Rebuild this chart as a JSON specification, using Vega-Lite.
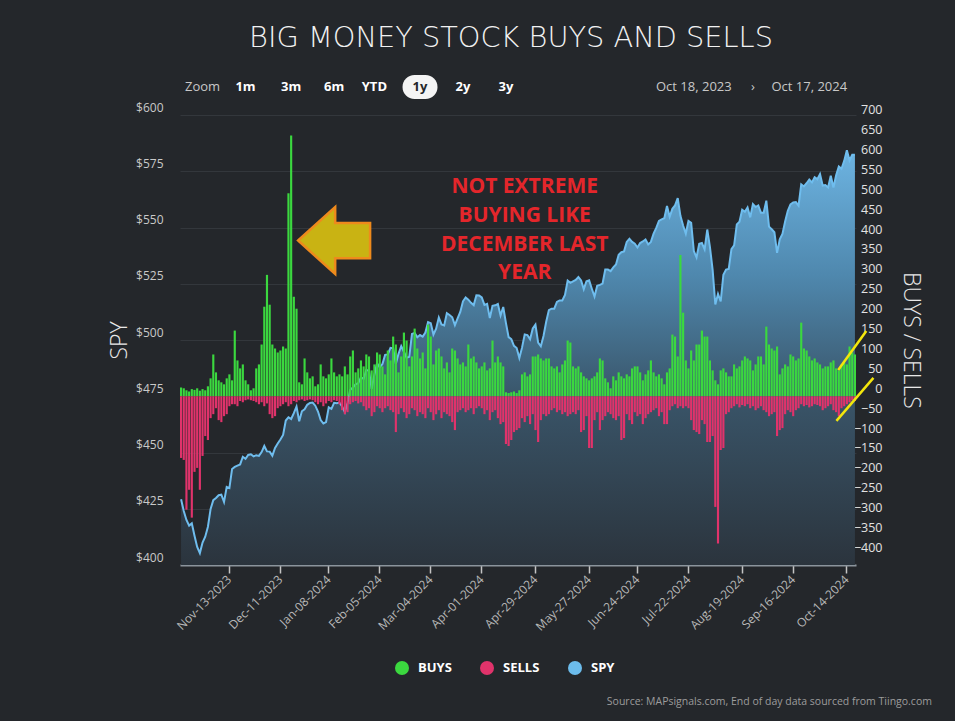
{
  "$schema": "https://vega.github.io/schema/vega-lite/v6.json",
  "width": 676,
  "height": 450,
  "autosize": {"type": "none"},
  "padding": {"left": 180, "top": 115, "right": 99, "bottom": 156},
  "background": "#24272b",
  "title": {"text": "BIG MONEY STOCK BUYS AND SELLS", "anchor": "middle", "fontSize": 28.8, "fontWeight": 200, "color": "#f2f2f2", "font": "DejaVu Sans", "offset": 22, "dx": -7},
  "config": {"view": {"stroke": null}, "font": "Open Sans"},
  "datasets": {
    "daily": [
{"d":"2023-10-18","BUYS":22,"SELLS":-155,"SPY":429.2},
{"d":"2023-10-19","BUYS":20,"SELLS":-160,"SPY":424.0},
{"d":"2023-10-20","BUYS":15,"SELLS":-285,"SPY":420.0},
{"d":"2023-10-23","BUYS":12,"SELLS":-235,"SPY":417.5},
{"d":"2023-10-24","BUYS":18,"SELLS":-305,"SPY":418.5},
{"d":"2023-10-25","BUYS":16,"SELLS":-190,"SPY":413.0},
{"d":"2023-10-26","BUYS":20,"SELLS":-180,"SPY":408.0},
{"d":"2023-10-27","BUYS":14,"SELLS":-235,"SPY":405.3},
{"d":"2023-10-30","BUYS":18,"SELLS":-150,"SPY":410.0},
{"d":"2023-10-31","BUYS":15,"SELLS":-100,"SPY":412.6},
{"d":"2023-11-01","BUYS":25,"SELLS":-110,"SPY":417.0},
{"d":"2023-11-02","BUYS":45,"SELLS":-55,"SPY":424.9},
{"d":"2023-11-03","BUYS":105,"SELLS":-45,"SPY":428.8},
{"d":"2023-11-06","BUYS":60,"SELLS":-30,"SPY":429.8},
{"d":"2023-11-07","BUYS":40,"SELLS":-60,"SPY":431.0},
{"d":"2023-11-08","BUYS":35,"SELLS":-65,"SPY":431.3},
{"d":"2023-11-09","BUYS":30,"SELLS":-50,"SPY":428.0},
{"d":"2023-11-10","BUYS":45,"SELLS":-45,"SPY":434.7},
{"d":"2023-11-13","BUYS":55,"SELLS":-25,"SPY":434.2},
{"d":"2023-11-14","BUYS":40,"SELLS":-20,"SPY":442.7},
{"d":"2023-11-15","BUYS":165,"SELLS":-20,"SPY":443.6},
{"d":"2023-11-16","BUYS":90,"SELLS":-25,"SPY":444.2},
{"d":"2023-11-17","BUYS":70,"SELLS":-12,"SPY":444.7},
{"d":"2023-11-20","BUYS":80,"SELLS":-15,"SPY":448.1},
{"d":"2023-11-21","BUYS":40,"SELLS":-10,"SPY":447.2},
{"d":"2023-11-22","BUYS":30,"SELLS":-8,"SPY":448.9},
{"d":"2023-11-24","BUYS":15,"SELLS":-10,"SPY":449.2},
{"d":"2023-11-27","BUYS":20,"SELLS":-12,"SPY":448.3},
{"d":"2023-11-28","BUYS":70,"SELLS":-15,"SPY":448.8},
{"d":"2023-11-29","BUYS":80,"SELLS":-20,"SPY":448.5},
{"d":"2023-11-30","BUYS":130,"SELLS":-15,"SPY":450.2},
{"d":"2023-12-01","BUYS":225,"SELLS":-25,"SPY":452.9},
{"d":"2023-12-04","BUYS":305,"SELLS":-18,"SPY":450.5},
{"d":"2023-12-05","BUYS":230,"SELLS":-45,"SPY":450.4},
{"d":"2023-12-06","BUYS":130,"SELLS":-55,"SPY":448.6},
{"d":"2023-12-07","BUYS":120,"SELLS":-50,"SPY":452.0},
{"d":"2023-12-08","BUYS":110,"SELLS":-30,"SPY":454.0},
{"d":"2023-12-11","BUYS":115,"SELLS":-25,"SPY":455.8},
{"d":"2023-12-12","BUYS":125,"SELLS":-20,"SPY":457.8},
{"d":"2023-12-13","BUYS":120,"SELLS":-15,"SPY":464.2},
{"d":"2023-12-14","BUYS":510,"SELLS":-25,"SPY":465.6},
{"d":"2023-12-15","BUYS":655,"SELLS":-20,"SPY":464.9},
{"d":"2023-12-18","BUYS":250,"SELLS":-12,"SPY":467.5},
{"d":"2023-12-19","BUYS":220,"SELLS":-15,"SPY":470.4},
{"d":"2023-12-20","BUYS":35,"SELLS":-10,"SPY":463.9},
{"d":"2023-12-21","BUYS":30,"SELLS":-8,"SPY":468.3},
{"d":"2023-12-22","BUYS":95,"SELLS":-12,"SPY":469.2},
{"d":"2023-12-26","BUYS":60,"SELLS":-10,"SPY":471.2},
{"d":"2023-12-27","BUYS":45,"SELLS":-8,"SPY":472.0},
{"d":"2023-12-28","BUYS":50,"SELLS":-10,"SPY":472.2},
{"d":"2023-12-29","BUYS":25,"SELLS":-15,"SPY":470.8},
{"d":"2024-01-02","BUYS":30,"SELLS":-20,"SPY":468.2},
{"d":"2024-01-03","BUYS":80,"SELLS":-15,"SPY":464.4},
{"d":"2024-01-04","BUYS":50,"SELLS":-25,"SPY":462.9},
{"d":"2024-01-05","BUYS":45,"SELLS":-18,"SPY":463.5},
{"d":"2024-01-08","BUYS":55,"SELLS":-12,"SPY":470.1},
{"d":"2024-01-09","BUYS":95,"SELLS":-15,"SPY":469.4},
{"d":"2024-01-10","BUYS":60,"SELLS":-10,"SPY":472.1},
{"d":"2024-01-11","BUYS":50,"SELLS":-12,"SPY":471.9},
{"d":"2024-01-12","BUYS":55,"SELLS":-20,"SPY":472.2},
{"d":"2024-01-16","BUYS":50,"SELLS":-35,"SPY":470.5},
{"d":"2024-01-17","BUYS":75,"SELLS":-45,"SPY":467.9},
{"d":"2024-01-18","BUYS":55,"SELLS":-40,"SPY":472.0},
{"d":"2024-01-19","BUYS":100,"SELLS":-20,"SPY":477.9},
{"d":"2024-01-22","BUYS":115,"SELLS":-15,"SPY":478.9},
{"d":"2024-01-23","BUYS":60,"SELLS":-12,"SPY":480.3},
{"d":"2024-01-24","BUYS":70,"SELLS":-18,"SPY":480.8},
{"d":"2024-01-25","BUYS":90,"SELLS":-15,"SPY":483.4},
{"d":"2024-01-26","BUYS":75,"SELLS":-25,"SPY":482.8},
{"d":"2024-01-29","BUYS":105,"SELLS":-35,"SPY":486.7},
{"d":"2024-01-30","BUYS":100,"SELLS":-30,"SPY":486.3},
{"d":"2024-01-31","BUYS":65,"SELLS":-50,"SPY":478.3},
{"d":"2024-02-01","BUYS":80,"SELLS":-40,"SPY":484.6},
{"d":"2024-02-02","BUYS":110,"SELLS":-25,"SPY":489.7},
{"d":"2024-02-05","BUYS":105,"SELLS":-30,"SPY":487.9},
{"d":"2024-02-06","BUYS":75,"SELLS":-40,"SPY":489.3},
{"d":"2024-02-07","BUYS":55,"SELLS":-30,"SPY":493.4},
{"d":"2024-02-08","BUYS":115,"SELLS":-25,"SPY":493.6},
{"d":"2024-02-09","BUYS":90,"SELLS":-35,"SPY":496.5},
{"d":"2024-02-12","BUYS":150,"SELLS":-40,"SPY":496.3},
{"d":"2024-02-13","BUYS":130,"SELLS":-90,"SPY":489.4},
{"d":"2024-02-14","BUYS":60,"SELLS":-45,"SPY":493.9},
{"d":"2024-02-15","BUYS":100,"SELLS":-30,"SPY":497.3},
{"d":"2024-02-16","BUYS":160,"SELLS":-40,"SPY":494.8},
{"d":"2024-02-20","BUYS":140,"SELLS":-55,"SPY":492.1},
{"d":"2024-02-21","BUYS":75,"SELLS":-45,"SPY":492.5},
{"d":"2024-02-22","BUYS":100,"SELLS":-30,"SPY":502.7},
{"d":"2024-02-23","BUYS":170,"SELLS":-35,"SPY":503.1},
{"d":"2024-02-26","BUYS":120,"SELLS":-50,"SPY":501.2},
{"d":"2024-02-27","BUYS":95,"SELLS":-40,"SPY":502.2},
{"d":"2024-02-28","BUYS":110,"SELLS":-45,"SPY":501.5},
{"d":"2024-02-29","BUYS":70,"SELLS":-55,"SPY":503.3},
{"d":"2024-03-01","BUYS":180,"SELLS":-30,"SPY":508.0},
{"d":"2024-03-04","BUYS":150,"SELLS":-40,"SPY":507.5},
{"d":"2024-03-05","BUYS":80,"SELLS":-60,"SPY":502.4},
{"d":"2024-03-06","BUYS":115,"SELLS":-45,"SPY":505.0},
{"d":"2024-03-07","BUYS":120,"SELLS":-35,"SPY":510.0},
{"d":"2024-03-08","BUYS":100,"SELLS":-55,"SPY":506.9},
{"d":"2024-03-11","BUYS":70,"SELLS":-40,"SPY":506.5},
{"d":"2024-03-12","BUYS":85,"SELLS":-45,"SPY":511.9},
{"d":"2024-03-13","BUYS":60,"SELLS":-50,"SPY":511.1},
{"d":"2024-03-14","BUYS":120,"SELLS":-65,"SPY":510.1},
{"d":"2024-03-15","BUYS":115,"SELLS":-85,"SPY":506.6},
{"d":"2024-03-18","BUYS":95,"SELLS":-40,"SPY":509.6},
{"d":"2024-03-19","BUYS":80,"SELLS":-35,"SPY":512.5},
{"d":"2024-03-20","BUYS":85,"SELLS":-30,"SPY":517.2},
{"d":"2024-03-21","BUYS":75,"SELLS":-40,"SPY":518.9},
{"d":"2024-03-22","BUYS":130,"SELLS":-35,"SPY":517.9},
{"d":"2024-03-25","BUYS":95,"SELLS":-30,"SPY":516.5},
{"d":"2024-03-26","BUYS":100,"SELLS":-45,"SPY":515.5},
{"d":"2024-03-27","BUYS":85,"SELLS":-30,"SPY":519.9},
{"d":"2024-03-28","BUYS":70,"SELLS":-25,"SPY":519.8},
{"d":"2024-04-01","BUYS":75,"SELLS":-30,"SPY":518.9},
{"d":"2024-04-02","BUYS":85,"SELLS":-45,"SPY":515.6},
{"d":"2024-04-03","BUYS":65,"SELLS":-35,"SPY":516.1},
{"d":"2024-04-04","BUYS":70,"SELLS":-60,"SPY":509.8},
{"d":"2024-04-05","BUYS":140,"SELLS":-40,"SPY":515.2},
{"d":"2024-04-08","BUYS":85,"SELLS":-35,"SPY":515.4},
{"d":"2024-04-09","BUYS":100,"SELLS":-55,"SPY":516.0},
{"d":"2024-04-10","BUYS":85,"SELLS":-70,"SPY":510.9},
{"d":"2024-04-11","BUYS":75,"SELLS":-65,"SPY":514.7},
{"d":"2024-04-12","BUYS":10,"SELLS":-120,"SPY":507.6},
{"d":"2024-04-15","BUYS":8,"SELLS":-125,"SPY":501.3},
{"d":"2024-04-16","BUYS":10,"SELLS":-110,"SPY":500.4},
{"d":"2024-04-17","BUYS":12,"SELLS":-90,"SPY":497.4},
{"d":"2024-04-18","BUYS":8,"SELLS":-85,"SPY":496.4},
{"d":"2024-04-19","BUYS":15,"SELLS":-80,"SPY":492.0},
{"d":"2024-04-22","BUYS":55,"SELLS":-55,"SPY":496.6},
{"d":"2024-04-23","BUYS":60,"SELLS":-65,"SPY":502.5},
{"d":"2024-04-24","BUYS":50,"SELLS":-50,"SPY":502.2},
{"d":"2024-04-25","BUYS":55,"SELLS":-70,"SPY":500.3},
{"d":"2024-04-26","BUYS":100,"SELLS":-45,"SPY":505.1},
{"d":"2024-04-29","BUYS":100,"SELLS":-85,"SPY":506.8},
{"d":"2024-04-30","BUYS":105,"SELLS":-115,"SPY":498.8},
{"d":"2024-05-01","BUYS":95,"SELLS":-60,"SPY":497.2},
{"d":"2024-05-02","BUYS":90,"SELLS":-45,"SPY":501.8},
{"d":"2024-05-03","BUYS":95,"SELLS":-50,"SPY":508.1},
{"d":"2024-05-06","BUYS":95,"SELLS":-45,"SPY":513.3},
{"d":"2024-05-07","BUYS":75,"SELLS":-35,"SPY":513.9},
{"d":"2024-05-08","BUYS":70,"SELLS":-30,"SPY":513.9},
{"d":"2024-05-09","BUYS":75,"SELLS":-40,"SPY":516.9},
{"d":"2024-05-10","BUYS":60,"SELLS":-35,"SPY":517.6},
{"d":"2024-05-13","BUYS":80,"SELLS":-45,"SPY":517.6},
{"d":"2024-05-14","BUYS":90,"SELLS":-40,"SPY":520.0},
{"d":"2024-05-15","BUYS":140,"SELLS":-50,"SPY":526.4},
{"d":"2024-05-16","BUYS":135,"SELLS":-45,"SPY":525.4},
{"d":"2024-05-17","BUYS":75,"SELLS":-40,"SPY":526.1},
{"d":"2024-05-20","BUYS":70,"SELLS":-45,"SPY":526.7},
{"d":"2024-05-21","BUYS":75,"SELLS":-35,"SPY":528.0},
{"d":"2024-05-22","BUYS":60,"SELLS":-90,"SPY":526.5},
{"d":"2024-05-23","BUYS":50,"SELLS":-85,"SPY":522.6},
{"d":"2024-05-24","BUYS":45,"SELLS":-50,"SPY":526.1},
{"d":"2024-05-28","BUYS":40,"SELLS":-130,"SPY":526.5},
{"d":"2024-05-29","BUYS":45,"SELLS":-130,"SPY":522.8},
{"d":"2024-05-30","BUYS":50,"SELLS":-60,"SPY":519.3},
{"d":"2024-05-31","BUYS":60,"SELLS":-40,"SPY":524.1},
{"d":"2024-06-03","BUYS":95,"SELLS":-85,"SPY":524.5},
{"d":"2024-06-04","BUYS":90,"SELLS":-60,"SPY":525.1},
{"d":"2024-06-05","BUYS":45,"SELLS":-50,"SPY":531.3},
{"d":"2024-06-06","BUYS":35,"SELLS":-40,"SPY":531.3},
{"d":"2024-06-07","BUYS":20,"SELLS":-45,"SPY":530.6},
{"d":"2024-06-10","BUYS":50,"SELLS":-55,"SPY":532.3},
{"d":"2024-06-11","BUYS":40,"SELLS":-60,"SPY":533.6},
{"d":"2024-06-12","BUYS":60,"SELLS":-50,"SPY":537.9},
{"d":"2024-06-13","BUYS":50,"SELLS":-110,"SPY":539.0},
{"d":"2024-06-14","BUYS":45,"SELLS":-105,"SPY":539.4},
{"d":"2024-06-17","BUYS":55,"SELLS":-45,"SPY":543.6},
{"d":"2024-06-18","BUYS":50,"SELLS":-60,"SPY":545.0},
{"d":"2024-06-20","BUYS":70,"SELLS":-70,"SPY":543.6},
{"d":"2024-06-21","BUYS":75,"SELLS":-40,"SPY":542.8},
{"d":"2024-06-24","BUYS":75,"SELLS":-50,"SPY":541.1},
{"d":"2024-06-25","BUYS":60,"SELLS":-45,"SPY":543.1},
{"d":"2024-06-26","BUYS":40,"SELLS":-70,"SPY":543.8},
{"d":"2024-06-27","BUYS":55,"SELLS":-55,"SPY":544.7},
{"d":"2024-06-28","BUYS":65,"SELLS":-45,"SPY":542.5},
{"d":"2024-07-01","BUYS":90,"SELLS":-40,"SPY":543.6},
{"d":"2024-07-02","BUYS":60,"SELLS":-35,"SPY":547.3},
{"d":"2024-07-03","BUYS":50,"SELLS":-30,"SPY":549.8},
{"d":"2024-07-05","BUYS":55,"SELLS":-50,"SPY":552.9},
{"d":"2024-07-08","BUYS":45,"SELLS":-40,"SPY":553.6},
{"d":"2024-07-09","BUYS":30,"SELLS":-70,"SPY":554.1},
{"d":"2024-07-10","BUYS":60,"SELLS":-70,"SPY":559.6},
{"d":"2024-07-11","BUYS":70,"SELLS":-35,"SPY":554.8},
{"d":"2024-07-12","BUYS":155,"SELLS":-25,"SPY":558.3},
{"d":"2024-07-15","BUYS":150,"SELLS":-20,"SPY":559.8},
{"d":"2024-07-16","BUYS":100,"SELLS":-30,"SPY":563.1},
{"d":"2024-07-17","BUYS":355,"SELLS":-25,"SPY":555.2},
{"d":"2024-07-18","BUYS":210,"SELLS":-30,"SPY":550.9},
{"d":"2024-07-19","BUYS":90,"SELLS":-25,"SPY":547.3},
{"d":"2024-07-22","BUYS":70,"SELLS":-30,"SPY":552.9},
{"d":"2024-07-23","BUYS":115,"SELLS":-60,"SPY":552.1},
{"d":"2024-07-24","BUYS":90,"SELLS":-85,"SPY":539.5},
{"d":"2024-07-25","BUYS":130,"SELLS":-90,"SPY":536.7},
{"d":"2024-07-26","BUYS":130,"SELLS":-95,"SPY":542.8},
{"d":"2024-07-29","BUYS":165,"SELLS":-60,"SPY":543.1},
{"d":"2024-07-30","BUYS":150,"SELLS":-70,"SPY":540.3},
{"d":"2024-07-31","BUYS":150,"SELLS":-115,"SPY":549.1},
{"d":"2024-08-01","BUYS":90,"SELLS":-115,"SPY":541.3},
{"d":"2024-08-02","BUYS":65,"SELLS":-100,"SPY":531.2},
{"d":"2024-08-05","BUYS":40,"SELLS":-278,"SPY":515.8},
{"d":"2024-08-06","BUYS":30,"SELLS":-370,"SPY":520.5},
{"d":"2024-08-07","BUYS":65,"SELLS":-135,"SPY":517.1},
{"d":"2024-08-08","BUYS":70,"SELLS":-130,"SPY":529.0},
{"d":"2024-08-09","BUYS":60,"SELLS":-45,"SPY":531.3},
{"d":"2024-08-12","BUYS":50,"SELLS":-40,"SPY":531.6},
{"d":"2024-08-13","BUYS":50,"SELLS":-30,"SPY":540.4},
{"d":"2024-08-14","BUYS":80,"SELLS":-25,"SPY":542.1},
{"d":"2024-08-15","BUYS":70,"SELLS":-20,"SPY":551.4},
{"d":"2024-08-16","BUYS":75,"SELLS":-28,"SPY":552.6},
{"d":"2024-08-19","BUYS":90,"SELLS":-22,"SPY":557.9},
{"d":"2024-08-20","BUYS":100,"SELLS":-25,"SPY":557.0},
{"d":"2024-08-21","BUYS":95,"SELLS":-20,"SPY":558.9},
{"d":"2024-08-22","BUYS":90,"SELLS":-30,"SPY":554.5},
{"d":"2024-08-23","BUYS":65,"SELLS":-25,"SPY":560.4},
{"d":"2024-08-26","BUYS":80,"SELLS":-35,"SPY":559.1},
{"d":"2024-08-27","BUYS":100,"SELLS":-30,"SPY":559.8},
{"d":"2024-08-28","BUYS":100,"SELLS":-25,"SPY":556.6},
{"d":"2024-08-29","BUYS":80,"SELLS":-35,"SPY":556.6},
{"d":"2024-08-30","BUYS":175,"SELLS":-40,"SPY":561.9},
{"d":"2024-09-03","BUYS":130,"SELLS":-50,"SPY":550.4},
{"d":"2024-09-04","BUYS":120,"SELLS":-45,"SPY":549.2},
{"d":"2024-09-05","BUYS":115,"SELLS":-40,"SPY":547.9},
{"d":"2024-09-06","BUYS":125,"SELLS":-100,"SPY":538.7},
{"d":"2024-09-09","BUYS":55,"SELLS":-85,"SPY":544.7},
{"d":"2024-09-10","BUYS":70,"SELLS":-80,"SPY":547.1},
{"d":"2024-09-11","BUYS":80,"SELLS":-45,"SPY":552.7},
{"d":"2024-09-12","BUYS":75,"SELLS":-35,"SPY":557.4},
{"d":"2024-09-13","BUYS":105,"SELLS":-40,"SPY":560.3},
{"d":"2024-09-16","BUYS":100,"SELLS":-50,"SPY":561.1},
{"d":"2024-09-17","BUYS":90,"SELLS":-35,"SPY":561.3},
{"d":"2024-09-18","BUYS":95,"SELLS":-30,"SPY":559.7},
{"d":"2024-09-19","BUYS":185,"SELLS":-20,"SPY":569.2},
{"d":"2024-09-20","BUYS":120,"SELLS":-25,"SPY":568.25},
{"d":"2024-09-23","BUYS":115,"SELLS":-22,"SPY":569.67},
{"d":"2024-09-24","BUYS":100,"SELLS":-28,"SPY":571.3},
{"d":"2024-09-25","BUYS":90,"SELLS":-25,"SPY":570.04},
{"d":"2024-09-26","BUYS":95,"SELLS":-20,"SPY":572.3},
{"d":"2024-09-27","BUYS":85,"SELLS":-22,"SPY":571.47},
{"d":"2024-09-30","BUYS":80,"SELLS":-25,"SPY":573.76},
{"d":"2024-10-01","BUYS":70,"SELLS":-35,"SPY":568.62},
{"d":"2024-10-02","BUYS":75,"SELLS":-30,"SPY":568.86},
{"d":"2024-10-03","BUYS":75,"SELLS":-25,"SPY":567.82},
{"d":"2024-10-04","BUYS":85,"SELLS":-20,"SPY":572.98},
{"d":"2024-10-07","BUYS":90,"SELLS":-35,"SPY":567.8},
{"d":"2024-10-08","BUYS":70,"SELLS":-40,"SPY":573.17},
{"d":"2024-10-09","BUYS":65,"SELLS":-50,"SPY":577.14},
{"d":"2024-10-10","BUYS":80,"SELLS":-30,"SPY":576.13},
{"d":"2024-10-11","BUYS":85,"SELLS":-25,"SPY":579.58},
{"d":"2024-10-14","BUYS":80,"SELLS":-20,"SPY":584.32},
{"d":"2024-10-15","BUYS":125,"SELLS":-15,"SPY":579.78},
{"d":"2024-10-16","BUYS":110,"SELLS":-10,"SPY":582.3},
{"d":"2024-10-17","BUYS":105,"SELLS":-12,"SPY":582.35}
    ],
    "notes": [
{"g":"zoom","t":"Zoom","d":"2023-10-30","p":612.4},
{"g":"btn","t":"1m","d":"2023-11-21","p":612.4},
{"g":"btn","t":"3m","d":"2023-12-15","p":612.4},
{"g":"btn","t":"6m","d":"2024-01-10","p":612.4},
{"g":"btn","t":"YTD","d":"2024-02-01","p":612.4},
{"g":"sel","t":"1y","d":"2024-02-27","p":612.4},
{"g":"btn","t":"2y","d":"2024-03-20","p":612.4},
{"g":"btn","t":"3y","d":"2024-04-12","p":612.4},
{"g":"zoom","t":"Oct 18, 2023","d":"2024-07-24","p":612.4},
{"g":"zoom","t":"›","d":"2024-08-23","p":612.4},
{"g":"zoom","t":"Oct 17, 2024","d":"2024-09-24","p":612.4},
{"g":"note","t":"NOT EXTREME","d":"2024-04-23","p":568.0},
{"g":"note","t":"BUYING LIKE","d":"2024-04-23","p":555.1},
{"g":"note","t":"DECEMBER LAST","d":"2024-04-23","p":542.2},
{"g":"note","t":"YEAR","d":"2024-04-23","p":529.8},
{"g":"source","t":"Source: MAPsignals.com, End of day data sourced from Tiingo.com","d":"2024-10-17","p":339.1},
{"g":"arrow","t":"","d":"2024-01-10","p":544.2},
{"g":"hl1","t":"","d":"2024-10-16","p":495.3},
{"g":"hl2","t":"","d":"2024-10-17","p":473.6}
    ]
  },
  "layer": [
    {
      "layer": [
        {
          "data": {"name": "daily"},
          "mark": {"type": "area", "interpolate": "linear", "color": {"gradient": "linear", "x1": 0, "y1": 0, "x2": 0, "y2": 1, "stops": [{"offset": 0, "color": "#6db4e2"}, {"offset": 0.3, "color": "#4f88ae"}, {"offset": 0.6, "color": "#395468"}, {"offset": 1, "color": "#2b343d"}]}},
          "encoding": {
            "x": {"field": "d", "type": "ordinal", "bandPosition": 0.5, "scale": {"paddingInner": 0.2, "paddingOuter": 0},
              "axis": {"title": null, "values": ["2023-11-13","2023-12-11","2024-01-08","2024-02-05","2024-03-04","2024-04-01","2024-04-29","2024-05-28","2024-06-24","2024-07-22","2024-08-19","2024-09-16","2024-10-14"],
                "labelExpr": "datum.value == '2024-05-28' ? 'May-27-2024' : utcFormat(toDate(datum.value), '%b-%d-%Y')",
                "labelAngle": -45, "labelAlign": "right", "labelBaseline": "middle", "labelColor": "#b8b8b8", "labelFontSize": 12, "labelPadding": 4,
                "domainColor": "#8b949c", "domainWidth": 2, "tickColor": "#c4c4c4", "tickSize": 8, "tickWidth": 1.5, "grid": false}},
            "y": {"field": "SPY", "type": "quantitative", "scale": {"domain": [400, 600], "zero": false, "nice": false},
              "axis": {"orient": "left", "values": [400,425,450,475,500,525,550,575,600], "labelExpr": "'$' + datum.value", "domain": false, "ticks": false,
                "grid": true, "gridColor": "#33373c", "labelColor": "#c9c9c9", "labelFontSize": 12, "labelPadding": 17, "labelOffset": -8,
                "title": "SPY", "titleColor": "#e8e8e8", "titleFontSize": 23, "titleFontWeight": 300, "titlePadding": 4}},
            "y2": {"datum": 400}
          }
        },
        {
          "data": {"name": "daily"},
          "mark": {"type": "line", "color": "#6fbdee", "strokeWidth": 2},
          "encoding": {
            "x": {"field": "d", "type": "ordinal", "bandPosition": 0.5},
            "y": {"field": "SPY", "type": "quantitative", "scale": {"domain": [400, 600], "zero": false, "nice": false}}
          }
        }
      ]
    },
    {
      "data": {"name": "daily"},
      "transform": [{"fold": ["BUYS", "SELLS"], "as": ["k", "v"]}],
      "mark": {"type": "bar"},
      "encoding": {
        "x": {"field": "d", "type": "ordinal"},
        "y": {"field": "v", "type": "quantitative", "stack": null, "scale": {"domain": [-424, 706.7], "zero": false, "nice": false},
          "axis": {"orient": "right", "values": [-400,-350,-300,-250,-200,-150,-100,-50,0,50,100,150,200,250,300,350,400,450,500,550,600,650,700],
            "domain": false, "ticks": false, "grid": false, "labelAlign": "right", "labelPadding": 26, "labelOffset": -8, "labelColor": "#e2e2e2", "labelFontSize": 12.5,
            "title": "BUYS / SELLS", "titleColor": "#e8e8e8", "titleFontSize": 23, "titleFontWeight": 300, "titlePadding": 16}},
        "color": {"field": "k", "type": "nominal", "scale": {"domain": ["BUYS", "SELLS", "SPY"], "range": ["#3bd83f", "#e0336b", "#6cbcec"]},
          "legend": {"orient": "none", "direction": "horizontal", "legendX": 215, "legendY": 546, "title": null, "symbolType": "circle", "symbolSize": 196,
            "labelColor": "#ffffff", "labelFontSize": 13, "labelFontWeight": "bold", "labelOffset": 9, "columnPadding": 28, "padding": 0,
            "symbolStrokeWidth": 0, "symbolOpacity": 1}}
      }
    },
    {
      "data": {"name": "notes"},
      "layer": [
        {
          "transform": [{"filter": "datum.g == 'arrow'"}],
          "mark": {"type": "point", "shape": "M-1,0 L0.03,-0.93 L0.03,-0.49 L1,-0.49 L1,0.49 L0.03,0.49 L0.03,0.93 Z", "size": 5184, "filled": true, "fill": "#c9b313", "stroke": "#ee8a1c", "strokeWidth": 2.5, "opacity": 1},
          "encoding": {"x": {"field": "d", "type": "ordinal"}, "y": {"field": "p", "type": "quantitative", "scale": {"domain": [400, 600], "zero": false, "nice": false}, "axis": null}}
        },
        {
          "transform": [{"filter": "datum.g == 'hl1'"}],
          "mark": {"type": "point", "shape": "M-0.72,1 L0.72,-1", "size": 1521, "filled": false, "stroke": "#f3e60c", "strokeWidth": 2.5, "opacity": 1},
          "encoding": {"x": {"field": "d", "type": "ordinal"}, "y": {"field": "p", "type": "quantitative", "scale": {"domain": [400, 600], "zero": false, "nice": false}, "axis": null}}
        },
        {
          "transform": [{"filter": "datum.g == 'hl2'"}],
          "mark": {"type": "point", "shape": "M-0.86,1 L0.86,-1", "size": 1849, "filled": false, "stroke": "#f3e60c", "strokeWidth": 2.5, "opacity": 1},
          "encoding": {"x": {"field": "d", "type": "ordinal"}, "y": {"field": "p", "type": "quantitative", "scale": {"domain": [400, 600], "zero": false, "nice": false}, "axis": null}}
        },
        {
          "transform": [{"filter": "datum.g == 'sel'"}],
          "mark": {"type": "point", "shape": "M-0.314,-0.686 L0.314,-0.686 A0.686,0.686 0 0 1 0.314,0.686 L-0.314,0.686 A0.686,0.686 0 0 1 -0.314,-0.686 Z", "size": 1225, "filled": true, "fill": "#f4f4f4", "strokeWidth": 0, "opacity": 1},
          "encoding": {"x": {"field": "d", "type": "ordinal"}, "y": {"field": "p", "type": "quantitative", "scale": {"domain": [400, 600], "zero": false, "nice": false}, "axis": null}}
        },
        {
          "transform": [{"filter": "datum.g == 'zoom'"}],
          "mark": {"type": "text", "color": "#c8c8c8", "fontSize": 13, "baseline": "middle", "align": "center"},
          "encoding": {"x": {"field": "d", "type": "ordinal"}, "y": {"field": "p", "type": "quantitative", "scale": {"domain": [400, 600], "zero": false, "nice": false}, "axis": null}, "text": {"field": "t"}}
        },
        {
          "transform": [{"filter": "datum.g == 'btn'"}],
          "mark": {"type": "text", "color": "#ffffff", "fontSize": 13, "fontWeight": "bold", "baseline": "middle", "align": "center"},
          "encoding": {"x": {"field": "d", "type": "ordinal"}, "y": {"field": "p", "type": "quantitative", "scale": {"domain": [400, 600], "zero": false, "nice": false}, "axis": null}, "text": {"field": "t"}}
        },
        {
          "transform": [{"filter": "datum.g == 'sel'"}],
          "mark": {"type": "text", "color": "#23262a", "fontSize": 13, "fontWeight": "bold", "baseline": "middle", "align": "center"},
          "encoding": {"x": {"field": "d", "type": "ordinal"}, "y": {"field": "p", "type": "quantitative", "scale": {"domain": [400, 600], "zero": false, "nice": false}, "axis": null}, "text": {"field": "t"}}
        },
        {
          "transform": [{"filter": "datum.g == 'note'"}],
          "mark": {"type": "text", "color": "#e4262b", "fontSize": 21, "fontWeight": "bold", "baseline": "middle", "align": "center"},
          "encoding": {"x": {"field": "d", "type": "ordinal"}, "y": {"field": "p", "type": "quantitative", "scale": {"domain": [400, 600], "zero": false, "nice": false}, "axis": null}, "text": {"field": "t"}}
        },
        {
          "transform": [{"filter": "datum.g == 'source'"}],
          "mark": {"type": "text", "color": "#9c9c9c", "fontSize": 10.5, "baseline": "middle", "align": "right", "dx": 77},
          "encoding": {"x": {"field": "d", "type": "ordinal"}, "y": {"field": "p", "type": "quantitative", "scale": {"domain": [400, 600], "zero": false, "nice": false}, "axis": null}, "text": {"field": "t"}}
        }
      ]
    }
  ],
  "resolve": {"scale": {"y": "independent"}}
}
